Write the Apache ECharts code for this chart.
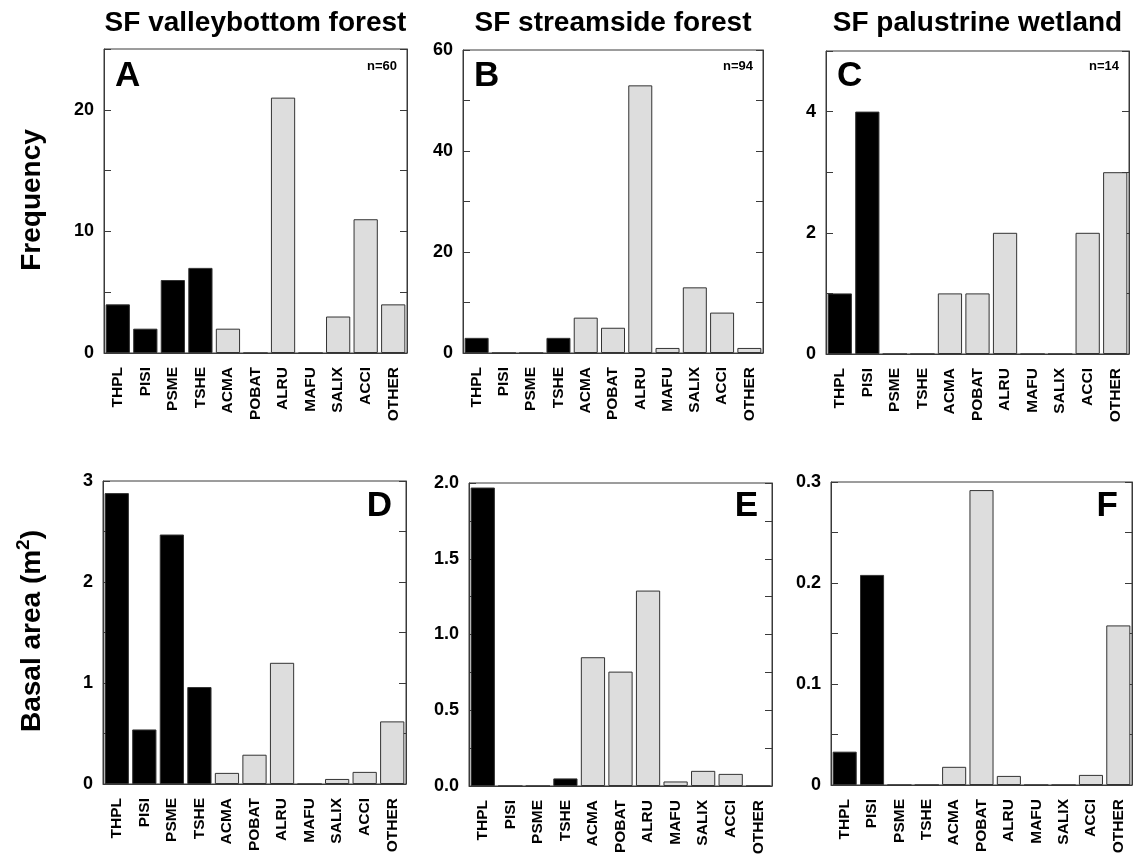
<!DOCTYPE html>
<html>
<head>
<meta charset="utf-8">
<script src="https://cdn.jsdelivr.net/npm/echarts@6/dist/echarts.min.js"></script>
<style>html,body{margin:0;padding:0;background:#fff}#c{width:1133px;height:860px}</style>
</head>
<body>
<div id="c"></div>
<script>
// ---------- data ----------
const categories = ['THPL','PISI','PSME','TSHE','ACMA','POBAT','ALRU','MAFU','SALIX','ACCI','OTHER'];
const groups = ['conifer','conifer','conifer','conifer','broadleaf','broadleaf','broadleaf','broadleaf','broadleaf','broadleaf','broadleaf'];

const freqValley   = [4, 2, 6, 7, 2, 0, 21, 0, 3, 11, 4];
const freqStream   = [3, 0, 0, 3, 7, 5, 53, 1, 13, 8, 1];
const freqWetland  = [1, 4, 0, 0, 1, 1, 2, 0, 0, 2, 3];
const baValley     = [2.88, 0.54, 2.47, 0.96, 0.11, 0.29, 1.20, 0, 0.05, 0.12, 0.62];
const baStream     = [1.97, 0, 0, 0.05, 0.85, 0.755, 1.29, 0.03, 0.10, 0.08, 0];
const baWetland    = [0.033, 0.208, 0, 0, 0.018, 0.292, 0.009, 0, 0, 0.010, 0.158];

const titles = ['SF valleybottom forest', 'SF streamside forest', 'SF palustrine wetland'];
const panelLetters = ['A','B','C','D','E','F'];
const sampleSizes = ['n=60','n=94','n=14'];

const yLabelsFreqValley  = ['0','10','20'];
const yLabelsFreqStream  = ['0','20','40','60'];
const yLabelsFreqWetland = ['0','2','4'];
const yLabelsBaValley    = ['0','1','2','3'];
const yLabelsBaStream    = ['0.0','0.5','1.0','1.5','2.0'];
const yLabelsBaWetland   = ['0','0.1','0.2','0.3'];

// ---------- layout ----------
const FONT = '"Liberation Sans", Arial, sans-serif';
const panels = [
  {data: freqValley,  labels: yLabelsFreqValley,  max: 25,  step: 5,    grid: {left: 104, top: 49,  width: 303, height: 304}},
  {data: freqStream,  labels: yLabelsFreqStream,  max: 60,  step: 10,   grid: {left: 463, top: 50,  width: 300, height: 303}},
  {data: freqWetland, labels: yLabelsFreqWetland, max: 5,   step: 1,    grid: {left: 826, top: 51,  width: 303, height: 303}},
  {data: baValley,    labels: yLabelsBaValley,    max: 3,   step: 0.5,  grid: {left: 103, top: 481, width: 303, height: 303}},
  {data: baStream,    labels: yLabelsBaStream,    max: 2,   step: 0.25, grid: {left: 469, top: 483, width: 303, height: 303}},
  {data: baWetland,   labels: yLabelsBaWetland,   max: 0.3, step: 0.05, grid: {left: 831, top: 482, width: 301, height: 303}}
];

const grid = [], xAxis = [], yAxis = [], series = [];
panels.forEach((p, i) => {
  grid.push(Object.assign({show: true, borderColor: '#3a3a3a', borderWidth: 1, backgroundColor: 'transparent'}, p.grid));
  xAxis.push({
    type: 'category', gridIndex: i, data: categories,
    axisTick: {show: false},
    axisLine: {lineStyle: {color: '#3a3a3a', width: 1}},
    axisLabel: {rotate: 90, interval: 0, margin: 14, color: '#000', fontFamily: FONT, fontWeight: 'bold', fontSize: 15.5}
  });
  const fmt = v => {
    const s = p.labels.find(l => Math.abs(parseFloat(l) - v) < 1e-9);
    return s === undefined ? '' : s;
  };
  const common = {
    type: 'value', gridIndex: i, min: 0, max: p.max, interval: p.step,
    splitLine: {show: false},
    axisLine: {show: true, lineStyle: {color: '#3a3a3a', width: 1}},
    axisTick: {show: true, inside: true, length: 7, lineStyle: {color: '#3a3a3a'}}
  };
  yAxis.push(Object.assign({}, common, {
    position: 'left',
    axisLabel: {formatter: fmt, margin: 10, color: '#000', fontFamily: FONT, fontWeight: 'bold', fontSize: 18}
  }));
  yAxis.push(Object.assign({}, common, {position: 'right', axisLabel: {show: false}}));
  series.push({
    type: 'bar', xAxisIndex: i, yAxisIndex: 2 * i, data: p.data,
    barWidth: '88%', silent: true,
    itemStyle: {
      color: params => groups[params.dataIndex] === 'conifer' ? '#000000' : '#dddddd',
      borderColor: '#333', borderWidth: 1
    }
  });
});

const graphic = [];
// column titles
[0, 1, 2].forEach(i => {
  const g = panels[i].grid;
  graphic.push({type: 'text', x: g.left + g.width / 2, y: 23,
    style: {text: titles[i], font: 'bold 28px ' + FONT, fill: '#000', textAlign: 'center', textVerticalAlign: 'middle'}});
  graphic.push({type: 'text', x: g.left + g.width - 10, y: 66,
    style: {text: sampleSizes[i], font: 'bold 13px ' + FONT, fill: '#000', textAlign: 'right', textVerticalAlign: 'middle'}});
  graphic.push({type: 'text', x: g.left + 11, y: 76,
    style: {text: panelLetters[i], font: 'bold 35px ' + FONT, fill: '#000', textAlign: 'left', textVerticalAlign: 'middle'}});
});
[3, 4, 5].forEach(i => {
  const g = panels[i].grid;
  graphic.push({type: 'text', x: g.left + g.width - 14, y: 506,
    style: {text: panelLetters[i], font: 'bold 35px ' + FONT, fill: '#000', textAlign: 'right', textVerticalAlign: 'middle'}});
});
// y-axis names
graphic.push({type: 'text', x: 32, y: 200, rotation: Math.PI / 2,
  style: {text: 'Frequency', font: 'bold 28px ' + FONT, fill: '#000', textAlign: 'center', textVerticalAlign: 'middle'}});
graphic.push({type: 'text', x: 32, y: 631, rotation: Math.PI / 2,
  style: {text: '{a|Basal area (m}{s|2}{a|)}', textAlign: 'center', textVerticalAlign: 'middle',
    rich: {
      a: {fontFamily: FONT, fontWeight: 'bold', fontSize: 28, fill: '#000', color: '#000', lineHeight: 34},
      s: {fontFamily: FONT, fontWeight: 'bold', fontSize: 19, fill: '#000', color: '#000', lineHeight: 34, padding: [0, 0, 16, 0]}
    }}});

const chart = echarts.init(document.getElementById('c'), null, {renderer: 'canvas'});
chart.setOption({animation: false, backgroundColor: '#fff', grid, xAxis, yAxis, series, graphic});
</script>
</body>
</html>
